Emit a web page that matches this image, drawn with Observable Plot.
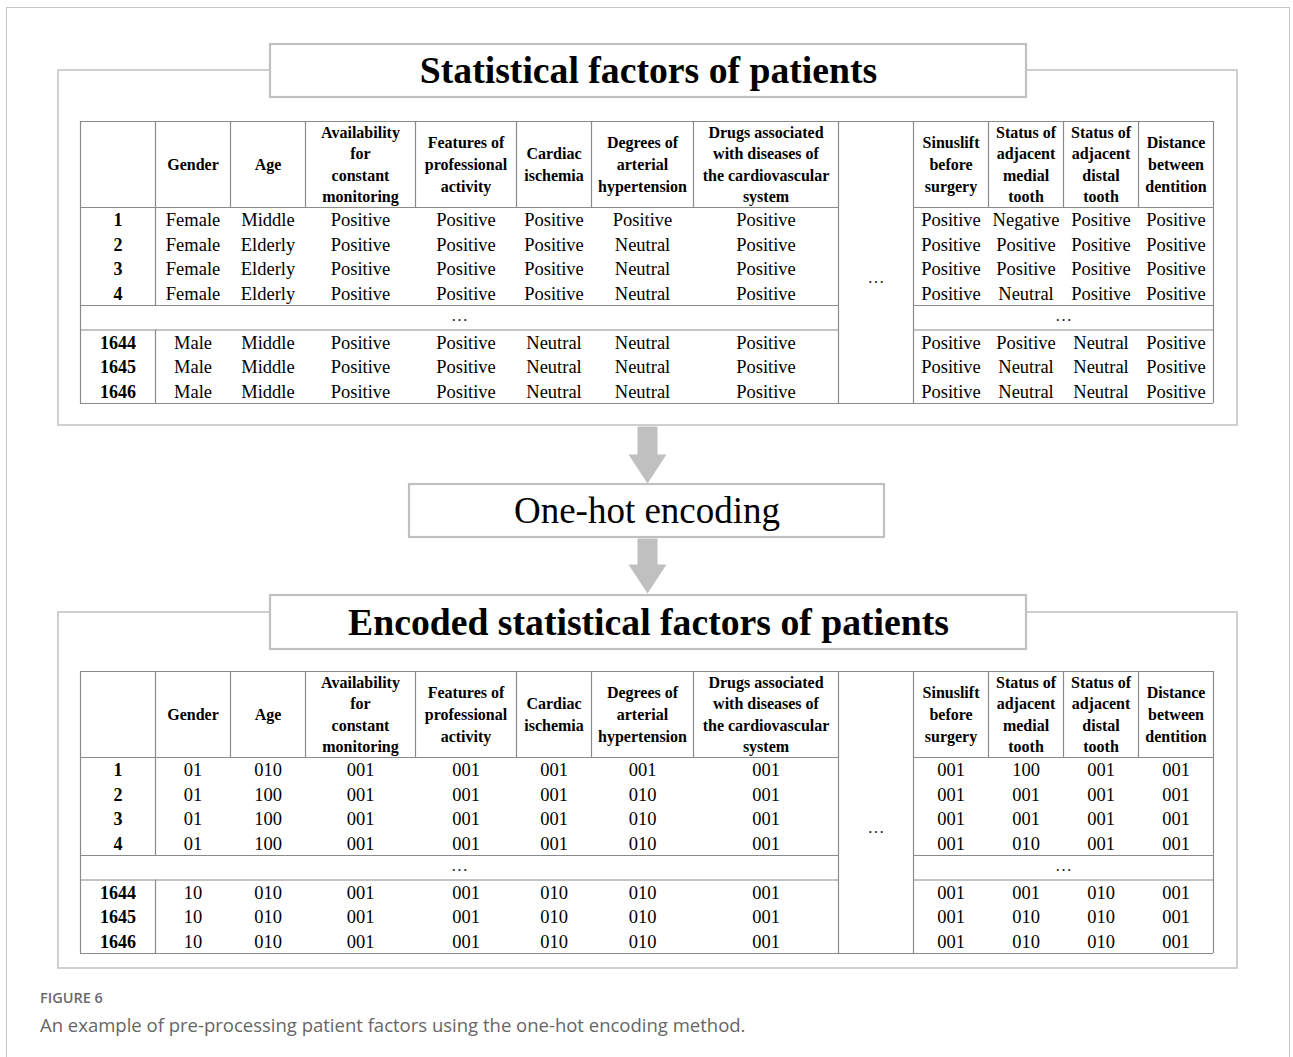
<!DOCTYPE html>
<html>
<head>
<meta charset="utf-8">
<script src="https://cdn.jsdelivr.net/npm/d3@7"></script>
<script src="https://cdn.jsdelivr.net/npm/@observablehq/plot@0.6"></script>
<style>
  html, body { margin: 0; padding: 0; overflow: hidden; background: #fff; width: 1293px; height: 1057px; }
  #frame { position: absolute; left: 6px; top: 7px; width: 1284px; height: 1100px; border: 1.5px solid #c6c6c6; box-sizing: border-box; }
  #chart { position: absolute; left: 0; top: 0; }
  #fig { position: absolute; left: 40px; top: 991px; font-family: "Open Sans", sans-serif; font-weight: 600; font-size: 14.5px; line-height: 1; color: #6a6a6a; }
  #cap { position: absolute; left: 40px; top: 1016px; font-family: "Open Sans", sans-serif; font-size: 18.5px; line-height: 1; color: #666; white-space: nowrap; }
  svg g[aria-label="header"] text { letter-spacing: 0.4px; }
</style>
</head>
<body>
<div id="frame"></div>
<div id="chart"></div>
<div id="fig">FIGURE 6</div>
<div id="cap">An example of pre-processing patient factors using the one-hot encoding method.</div>
<script>
// ---------- DATA ----------
const titleRaw = "Statistical factors of patients";
const titleEncoded = "Encoded statistical factors of patients";
const stepLabel = "One-hot encoding";
const ellipsis = "…";

const headersLeft = [
  "Gender",
  "Age",
  "Availability\nfor\nconstant\nmonitoring",
  "Features of\nprofessional\nactivity",
  "Cardiac\nischemia",
  "Degrees of\narterial\nhypertension",
  "Drugs associated\nwith diseases of\nthe cardiovascular\nsystem"
];
const headersRight = [
  "Sinuslift\nbefore\nsurgery",
  "Status of\nadjacent\nmedial\ntooth",
  "Status of\nadjacent\ndistal\ntooth",
  "Distance\nbetween\ndentition"
];
const patientIds = ["1", "2", "3", "4", "1644", "1645", "1646"];

const rawLeft = [
  ["Female", "Middle",  "Positive", "Positive", "Positive", "Positive", "Positive"],
  ["Female", "Elderly", "Positive", "Positive", "Positive", "Neutral",  "Positive"],
  ["Female", "Elderly", "Positive", "Positive", "Positive", "Neutral",  "Positive"],
  ["Female", "Elderly", "Positive", "Positive", "Positive", "Neutral",  "Positive"],
  ["Male",   "Middle",  "Positive", "Positive", "Neutral",  "Neutral",  "Positive"],
  ["Male",   "Middle",  "Positive", "Positive", "Neutral",  "Neutral",  "Positive"],
  ["Male",   "Middle",  "Positive", "Positive", "Neutral",  "Neutral",  "Positive"]
];
const rawRight = [
  ["Positive", "Negative", "Positive", "Positive"],
  ["Positive", "Positive", "Positive", "Positive"],
  ["Positive", "Positive", "Positive", "Positive"],
  ["Positive", "Neutral",  "Positive", "Positive"],
  ["Positive", "Positive", "Neutral",  "Positive"],
  ["Positive", "Neutral",  "Neutral",  "Positive"],
  ["Positive", "Neutral",  "Neutral",  "Positive"]
];
const encLeft = [
  ["01", "010", "001", "001", "001", "001", "001"],
  ["01", "100", "001", "001", "001", "010", "001"],
  ["01", "100", "001", "001", "001", "010", "001"],
  ["01", "100", "001", "001", "001", "010", "001"],
  ["10", "010", "001", "001", "010", "010", "001"],
  ["10", "010", "001", "001", "010", "010", "001"],
  ["10", "010", "001", "001", "010", "010", "001"]
];
const encRight = [
  ["001", "100", "001", "001"],
  ["001", "001", "001", "001"],
  ["001", "001", "001", "001"],
  ["001", "010", "001", "001"],
  ["001", "001", "010", "001"],
  ["001", "010", "010", "001"],
  ["001", "010", "010", "001"]
];

// ---------- LAYOUT ----------
const W = 1293, H = 985;
const serif = '"Liberation Serif", "Times New Roman", serif';
const lineColor = "#8a8a8a";
const boxColor = "#c0c0c0";
const X0 = 80;
const colW = [75, 75, 75, 110, 101, 75, 102, 145, 75, 75, 75, 75, 75];
const xs = [X0];
colW.forEach(w => xs.push(xs[xs.length - 1] + w));
const HEAD_H = 86, ROW_H = 24.5;
const TOTAL_H = HEAD_H + ROW_H * 8;
const mid = (a, b) => (a + b) / 2;

function tableMarks(T, leftVals, rightVals) {
  const rowTop = i => T + HEAD_H + (i < 4 ? i : i + 1) * ROW_H;
  const ellTop = T + HEAD_H + 4 * ROW_H;
  const xL = xs[0], xLm = xs[8], xRm = xs[9], xR = xs[13];
  const hRules = [
    {y: T, x1: xL, x2: xR},
    {y: T + HEAD_H, x1: xL, x2: xLm}, {y: T + HEAD_H, x1: xRm, x2: xR},
    {y: ellTop, x1: xL, x2: xLm}, {y: ellTop, x1: xRm, x2: xR},
    {y: ellTop + ROW_H, x1: xL, x2: xLm}, {y: ellTop + ROW_H, x1: xRm, x2: xR},
    {y: T + TOTAL_H, x1: xL, x2: xR}
  ];
  const vRules = [];
  [0, 8, 9, 13].forEach(k => vRules.push({x: xs[k], y1: T, y2: T + TOTAL_H}));
  vRules.push({x: xs[1], y1: T, y2: ellTop});
  vRules.push({x: xs[1], y1: ellTop + ROW_H, y2: T + TOTAL_H});
  [2, 3, 4, 5, 6, 7, 10, 11, 12].forEach(k => vRules.push({x: xs[k], y1: T, y2: T + HEAD_H}));

  const hy = T + HEAD_H / 2 - 1.5;
  const headers = [];
  headersLeft.forEach((h, j) => headers.push({x: mid(xs[j + 1], xs[j + 2]), y: hy, t: h}));
  headersRight.forEach((h, j) => headers.push({x: mid(xs[j + 9], xs[j + 10]), y: hy, t: h}));

  const ids = patientIds.map((id, i) => ({x: mid(xs[0], xs[1]), y: rowTop(i) + ROW_H / 2 + 0.8, t: id}));
  const cells = [];
  leftVals.forEach((row, i) => row.forEach((v, j) =>
    cells.push({x: mid(xs[j + 1], xs[j + 2]), y: rowTop(i) + ROW_H / 2 + 0.8, t: v})));
  rightVals.forEach((row, i) => row.forEach((v, j) =>
    cells.push({x: mid(xs[j + 9], xs[j + 10]), y: rowTop(i) + ROW_H / 2 + 0.8, t: v})));
  const dots = [
    {x: mid(xL, xLm), y: ellTop + ROW_H / 2 - 2, t: ellipsis},
    {x: mid(xRm, xR), y: ellTop + ROW_H / 2 - 2, t: ellipsis},
    {x: mid(xLm, xRm), y: T + 156, t: ellipsis}
  ];
  return [
    Plot.ruleY(hRules, {y: "y", x1: "x1", x2: "x2", stroke: lineColor, strokeWidth: 1.2}),
    Plot.ruleX(vRules, {x: "x", y1: "y1", y2: "y2", stroke: lineColor, strokeWidth: 1.2}),
    Plot.text(headers, {x: "x", y: "y", text: "t", fontSize: 16, fontWeight: "bold", lineHeight: 1.35, lineAnchor: "middle", fill: "black", ariaLabel: "header"}),
    Plot.text(ids, {x: "x", y: "y", text: "t", fontSize: 18, fontWeight: "bold", fill: "black"}),
    Plot.text(cells, {x: "x", y: "y", text: "t", fontSize: 18.5, fill: "black"}),
    Plot.text(dots, {x: "x", y: "y", text: "t", fontSize: 17, fill: "#222"})
  ];
}

// panels, title boxes, arrows
const panels = [
  {x1: 58, x2: 1237, y1: 70, y2: 425},
  {x1: 58, x2: 1237, y1: 612, y2: 968}
];
const boxes = [
  {x1: 270, x2: 1026, y1: 44, y2: 97, t: titleRaw, w: "bold"},
  {x1: 409, x2: 884, y1: 484, y2: 537, t: stepLabel, w: "normal"},
  {x1: 270, x2: 1026, y1: 595, y2: 649, t: titleEncoded, w: "bold"}
];
function arrowPts(cx, top, base, tip, id) {
  const sw = 10, hw = 19;
  return [
    [cx - sw, top], [cx + sw, top], [cx + sw, base], [cx + hw, base],
    [cx, tip], [cx - hw, base], [cx - sw, base]
  ].map(([x, y]) => ({x, y, id}));
}
const arrows = [
  ...arrowPts(647, 426, 454, 483, "a1"),
  ...arrowPts(647, 538, 564, 593, "a2")
];

const chart = Plot.plot({
  width: W,
  height: H,
  margin: 0,
  x: {domain: [0, W], range: [0, W], axis: null},
  y: {domain: [0, H], range: [0, H], axis: null},
  style: {fontFamily: serif, background: "transparent", overflow: "visible"},
  marks: [
    Plot.rect(panels, {x1: "x1", x2: "x2", y1: "y1", y2: "y2", fill: "none", stroke: boxColor, strokeWidth: 1.5}),
    Plot.rect(boxes, {x1: "x1", x2: "x2", y1: "y1", y2: "y2", fill: "white", stroke: boxColor, strokeWidth: 2.2}),
    Plot.text(boxes.filter(b => b.w === "bold"), {x: d => mid(d.x1, d.x2), y: d => mid(d.y1, d.y2), text: "t", fontSize: 37.7, fontWeight: "bold", fill: "black"}),
    Plot.text(boxes.filter(b => b.w !== "bold"), {x: d => mid(d.x1, d.x2), y: d => mid(d.y1, d.y2), text: "t", fontSize: 37, fill: "black"}),
    Plot.line(arrows, {x: "x", y: "y", z: "id", fill: boxColor, stroke: "none", curve: "linear-closed"}),
    ...tableMarks(121, rawLeft, rawRight),
    ...tableMarks(671, encLeft, encRight)
  ]
});
document.getElementById("chart").appendChild(chart);
</script>
</body>
</html>
